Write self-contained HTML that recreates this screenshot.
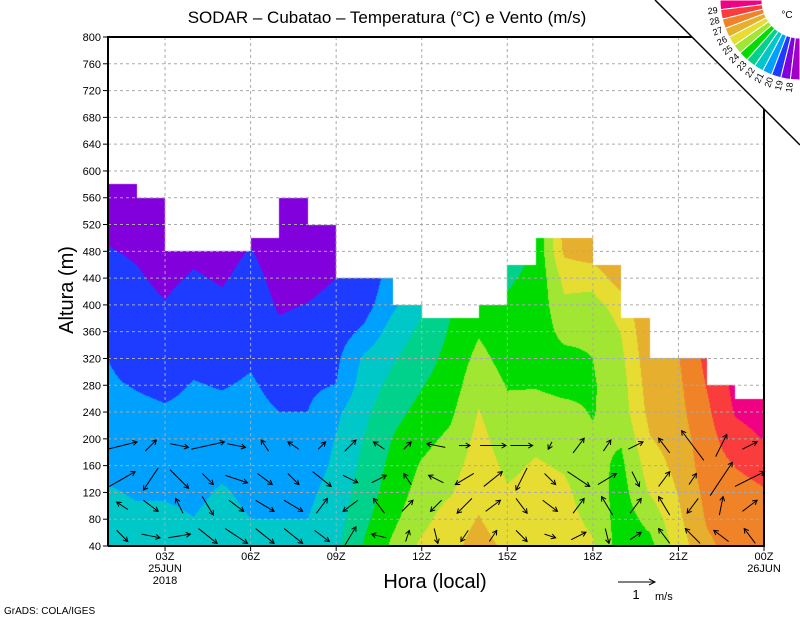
<!DOCTYPE html>
<html><head><meta charset="utf-8">
<style>
html,body{margin:0;padding:0;background:#fff;}
#wrap{position:relative;width:800px;height:618px;overflow:hidden;font-family:"Liberation Sans",sans-serif;}
#field{position:absolute;left:108px;top:37px;}
#ov{position:absolute;left:0;top:0;}
</style></head>
<body>
<div id="wrap">
<canvas id="field" width="656" height="509"></canvas>
<svg id="ov" width="800" height="618" xmlns="http://www.w3.org/2000/svg">
  <g id="grid"></g>
  <g id="arrows"></g>
  <g id="axes"></g>
  <polygon points="655,0 800,0 800,145" fill="#fff"/>
  <line x1="655" y1="0" x2="800" y2="145" stroke="#000" stroke-width="1.5"/>
  <g id="cbar"></g>
  <text x="387" y="23" font-size="17" text-anchor="middle">SODAR – Cubatao – Temperatura (°C) e Vento (m/s)</text>
  <text x="0" y="0" font-size="20" text-anchor="middle" transform="translate(73,290) rotate(-90)">Altura (m)</text>
  <text x="435" y="588" font-size="20" text-anchor="middle">Hora (local)</text>
  <text x="4" y="614" font-size="10">GrADS: COLA/IGES</text>
  <g>
    <line x1="618" y1="582" x2="655" y2="582" stroke="#000" stroke-width="1"/>
    <path d="M649,579 L655,582 L649,585" fill="none" stroke="#000"/>
    <text x="636" y="599" font-size="13" text-anchor="middle">1</text>
    <text x="655" y="600" font-size="11">m/s</text>
  </g>
  <text x="787" y="18" font-size="10" text-anchor="middle">°C</text>
</svg>
</div>
<script>
// ---- data ----
const heights = [40,80,120,160,200,240,280,320,360,400,440,480,520,560,600];
const hours = [1,2,3,4,5,6,7,8,9,10,11,12,13,14,15,16,17,18,19,20,21,22,23,24];
const topHeights = [580,560,480,480,480,500,560,520,440,440,400,380,380,400,460,500,500,460,380,320,320,280,260];
const levels = [18,19,20,21,22,23,24,25,26,27,28,29];
const levelLabels = ["18","19","20","21","22","23","24","25","26","27","28","29"];
const temp = [
[21.5,21.4,21.1,20.7,20.5,20.3,20.1,20.0,19.8,19.5,19.3,19.05,18.8,18.6,18.5],
[21.5,21.2,20.9,20.7,20.5,20.2,19.95,19.7,19.5,19.3,19.1,18.9,18.7,18.3,18.2],
[21.4,21.2,20.9,20.7,20.4,20.1,19.8,19.6,19.3,19.05,18.8,18.6,18.4,18.0,17.9],
[21.3,21.02,20.8,20.6,20.4,20.2,20.05,19.8,19.6,19.4,19.1,18.8,18.6,18.5,18.4],
[21.5,21.3,21.1,20.8,20.5,20.2,19.95,19.7,19.5,19.2,18.9,18.7,18.6,18.5,18.4],
[21.3,21.0,20.8,20.6,20.4,20.25,20.1,19.9,19.7,19.5,19.3,19.05,18.8,18.6,18.5],
[21.3,21.0,20.8,20.5,20.3,20.0,19.75,19.5,19.15,18.9,18.7,18.5,18.4,18.3,18.2],
[21.3,21.0,20.8,20.5,20.3,20.0,19.8,19.5,19.3,19.02,18.8,18.6,18.4,18.3,18.2],
[21.8,21.6,21.4,21.2,21.05,20.8,20.02,19.8,19.5,19.2,19.0,18.8,18.6,18.5,18.4],
[23.1,22.8,22.5,22.3,22.05,21.8,21.5,21.2,20.2,19.6,19.3,19.0,18.8,18.6,18.5],
[24.2,23.8,23.5,23.3,23.05,22.7,22.3,21.9,21.5,20.8,20.5,20.2,20.0,19.8,19.6],
[25.2,24.7,24.4,24.1,23.7,23.3,22.95,22.6,22.2,21.9,21.6,21.3,21.0,20.8,20.6],
[25.7,25.5,24.9,24.6,24.2,23.8,23.5,23.3,23.1,22.9,22.6,22.4,22.2,22.0,21.8],
[26.4,26.05,25.8,25.5,25.3,25.05,24.7,24.3,23.9,23.6,23.3,23.0,22.8,22.6,22.4],
[25.8,25.4,25.1,24.8,24.5,24.2,23.95,23.6,23.4,23.1,22.9,22.6,22.4,22.2,22.0],
[25.6,25.5,25.3,25.1,24.8,24.3,23.95,23.6,23.4,23.3,23.2,23.1,23.0,22.9,22.8],
[25.4,25.3,25.2,24.9,24.5,24.2,23.8,23.7,24.3,24.8,25.3,26.2,26.5,26.7,26.8],
[25.1,24.8,24.5,24.3,24.1,23.95,23.9,24.0,24.2,24.7,25.3,26.6,27.2,27.4,27.5],
[23.5,23.5,23.6,23.8,24.1,24.5,24.6,24.8,25.05,25.4,26.6,27.2,27.5,27.7,27.8],
[23.7,24.3,25.1,25.5,25.95,26.3,26.5,26.7,26.9,27.1,27.3,27.5,27.7,27.8,27.9],
[25.5,25.8,26.05,26.3,26.5,26.7,26.8,26.95,27.3,27.5,27.7,27.9,28.0,28.1,28.2],
[26.8,27.1,27.3,27.5,27.6,27.8,28.05,28.3,28.5,28.7,28.9,29.0,29.1,29.2,29.3],
[27.4,27.6,27.8,28.02,28.6,29.1,29.3,29.5,29.6,29.7,29.8,29.9,30.0,30.0,30.0],
[27.8,27.8,27.95,28.2,29.05,29.4,29.6,29.7,29.8,29.9,30,30,30,30,30]
];
const windHours = [1.5,2.5,3.5,4.5,5.5,6.5,7.5,8.5,9.5,10.5,11.5,12.5,13.5,14.5,15.5,16.5,17.5,18.5,19.5,20.5,21.5,22.5,23.5];
const windHeights = [55,100,140,190];
const windU = [
[0.3,0.5,0.6,0.5,0.6,0.5,0.5,0.4,0.3,-0.4,0.1,0.1,-0.2,0.2,0.3,0.3,0.4,0.1,0.3,-0.3,-0.4,-0.4,-0.3],
[-0.3,0.4,-0.2,0.3,0.4,0.5,0.5,0.3,-0.4,-0.3,0.3,-0.3,-0.4,0.4,0.3,0.4,0.3,-0.3,0.3,-0.3,-0.3,0.1,0.4],
[0.7,-0.4,0.5,0.3,0.6,0.4,0.3,0.5,0.4,0.4,-0.2,-0.4,-0.5,0.5,-0.3,0.3,0.6,0.5,0.2,0.3,0.2,0.6,0.8],
[0.8,0.3,0.5,0.9,0.5,-0.2,-0.3,0.2,0.3,-0.3,0.2,-0.5,0.3,0.7,0.6,-0.1,0.3,0.2,0.4,-0.3,-0.6,0.3,0.4]
];
const windV = [
[-0.3,-0.1,0.1,-0.4,-0.4,-0.4,-0.4,-0.3,0.5,0.1,0.3,-0.4,-0.3,0.3,-0.3,-0.1,0.2,-0.4,0.2,0.4,0.4,0.3,0.4],
[0.2,-0.3,0.4,-0.5,-0.3,-0.3,-0.3,0.4,-0.3,0.4,0.3,-0.3,-0.4,0.3,-0.4,-0.3,0.4,0.5,0.4,0.5,-0.4,0.5,0.3],
[0.4,-0.6,-0.5,-0.3,-0.2,-0.3,-0.3,-0.4,-0.2,0.2,0.3,0.2,-0.3,0.4,-0.6,-0.3,-0.4,0.3,-0.4,0.4,0.3,0.9,0.4],
[0.2,0.3,-0.1,0.2,-0.1,0.3,0.2,0.2,0.3,0.2,0.2,0.1,0.0,0.0,0.0,-0.2,0.4,0.3,0.2,0.4,0.8,0.6,0.2]
];
const xTickHours = [3,6,9,12,15,18,21,24];
const xTickLabels = ["03Z","06Z","09Z","12Z","15Z","18Z","21Z","00Z"];
const yTicks = [40,80,120,160,200,240,280,320,360,400,440,480,520,560,600,640,680,720,760,800];
const colors = ["#a000c8","#8200dc","#1e3cff","#00a0ff","#00c8c8","#00d28c","#00dc00","#a0e632","#e6dc32","#e6af2d","#f08228","#fa3c3c","#f00082"];

// ---- axis functions ----
const X0=108, X1=764, Y0=546, Y1=37;
function xs(h){ return X0 + (h-1)*(X1-X0)/23; }
function ys(z){ return Y0 - (z-40)*(Y0-Y1)/760; }
function tempAt(h,z){
  let fi=Math.min(Math.max(h-1,0),22.9999), fj=Math.min(Math.max((z-40)/40,0),13.9999);
  let i=Math.floor(fi), j=Math.floor(fj), a=fi-i, b=fj-j;
  return temp[i][j]*(1-a)*(1-b)+temp[i+1][j]*a*(1-b)+temp[i][j+1]*(1-a)*b+temp[i+1][j+1]*a*b;
}
function topAt(h){ let i=Math.min(Math.floor(h-1),22); return topHeights[Math.max(i,0)]; }

// ---- field ----
(function(){
  const cv=document.getElementById('field'), ctx=cv.getContext('2d');
  const W=cv.width,H=cv.height, img=ctx.createImageData(W,H);
  const rgb=colors.map(c=>[parseInt(c.substr(1,2),16),parseInt(c.substr(3,2),16),parseInt(c.substr(5,2),16)]);
  for(let py=0;py<H;py++){
    const z=40+(Y0-(Y1+py+0.5))*760/(Y0-Y1);
    for(let px=0;px<W;px++){
      const h=1+(px+0.5)*23/(X1-X0);
      const k=(py*W+px)*4;
      if(z>topAt(h)){img.data[k]=255;img.data[k+1]=255;img.data[k+2]=255;img.data[k+3]=255;continue;}
      const t=tempAt(h,z); let i=0; while(i<levels.length&&t>=levels[i]) i++;
      img.data[k]=rgb[i][0];img.data[k+1]=rgb[i][1];img.data[k+2]=rgb[i][2];img.data[k+3]=255;
    }
  }
  ctx.putImageData(img,0,0);
})();

const NS="http://www.w3.org/2000/svg";
function mk(tag,attrs,parent){const e=document.createElementNS(NS,tag);for(const k in attrs)e.setAttribute(k,attrs[k]);parent.appendChild(e);return e;}

// grid
const grid=document.getElementById('grid');
yTicks.forEach(z=>{ if(z===40) return;
  const l=mk('line',{x1:X0,x2:X1,y1:ys(z),y2:ys(z),stroke:'#aaa','stroke-dasharray':'3,3','stroke-width':1},grid);
  
  
});
xTickHours.forEach(h=>{ if(h===24) return;
  const l=mk('line',{x1:xs(h),x2:xs(h),y1:Y1,y2:Y0,stroke:'#aaa','stroke-dasharray':'3,3','stroke-width':1},grid);
  
  
});

// wind arrows
const arr=document.getElementById('arrows'); const SC=37;
windHours.forEach((h,i)=>{ windHeights.forEach((z,j)=>{
  const u=windU[j][i], v=windV[j][i]; if(u===null) return;
  if(z>topAt(h)) return;
  const cx=xs(h), cy=ys(z), dx=u*SC, dy=-v*SC;
  const x1=cx-dx/2,y1=cy-dy/2,x2=cx+dx/2,y2=cy+dy/2;
  const len=Math.hypot(dx,dy)||1, ux=dx/len, uy=dy/len, hl=5;
  const g=mk('g',{},arr);
  
  
  mk('line',{x1:x1,y1:y1,x2:x2,y2:y2,stroke:'#000','stroke-width':1},g);
  const ax=x2-hl*(ux*0.87-uy*0.5), ay=y2-hl*(uy*0.87+ux*0.5);
  const bx=x2-hl*(ux*0.87+uy*0.5), by=y2-hl*(uy*0.87-ux*0.5);
  mk('path',{d:`M${ax},${ay} L${x2},${y2} L${bx},${by}`,fill:'none',stroke:'#000','stroke-width':1},g);
});});

// axes
const ax=document.getElementById('axes');
const frame=mk('path',{d:`M${X0},${Y0} L${X0},${Y1} L692,${Y1} M${X1},108 L${X1},${Y0} L${X0},${Y0}`,fill:'none',stroke:'#000','stroke-width':2},ax);


yTicks.forEach(z=>{
  const t=mk('line',{x1:X0-5,x2:X0,y1:ys(z),y2:ys(z),stroke:'#000'},ax);
  
  
  const lb=mk('text',{x:X0-7,y:ys(z)+4,'font-size':11,'text-anchor':'end'},ax); lb.textContent=z;
  
  
});
xTickHours.forEach((h,i)=>{
  const t=mk('line',{x1:xs(h),x2:xs(h),y1:Y0,y2:Y0+5,stroke:'#000'},ax);
  
  
  const lb=mk('text',{x:xs(h),y:560,'font-size':11,'text-anchor':'middle'},ax); lb.textContent=xTickLabels[i];
  
  
});
[["25JUN",xs(3),572],["2018",xs(3),584],["26JUN",xs(24),572]].forEach(d=>{
  const lb=mk('text',{x:d[1],y:d[2],'font-size':11,'text-anchor':'middle'},ax); lb.textContent=d[0];
  
  
});

// color bar fan
const cb=document.getElementById('cbar'); const CX=800,CY=0,RI=38,RO=80,N=colors.length;
function pt(r,phi){const a=phi*Math.PI/180;return [CX-r*Math.cos(a),CY+r*Math.sin(a)];}
for(let k=0;k<N;k++){
  const p0=(k)*90/N, p1=(k+1)*90/N, ci=N-1-k;
  const a=pt(RI,p0),b=pt(RO,p0),c=pt(RO,p1),d=pt(RI,p1);
  const w=mk('path',{d:`M${a} L${b} A${RO},${RO} 0 0 0 ${c} L${d} A${RI},${RI} 0 0 1 ${a}`,fill:colors[ci],stroke:'#fff','stroke-width':1},cb);
  
  
}
for(let k=1;k<N;k++){
  const phi=k*90/N, p=pt(83,phi), li=levels.length-k;
  const t=mk('text',{x:0,y:0,'font-size':9,'text-anchor':'end',transform:`translate(${p[0]},${p[1]}) rotate(${-phi}) translate(0,3)`},cb);
  t.textContent=levelLabels[li];
  
  
}
</script>
</body></html>
